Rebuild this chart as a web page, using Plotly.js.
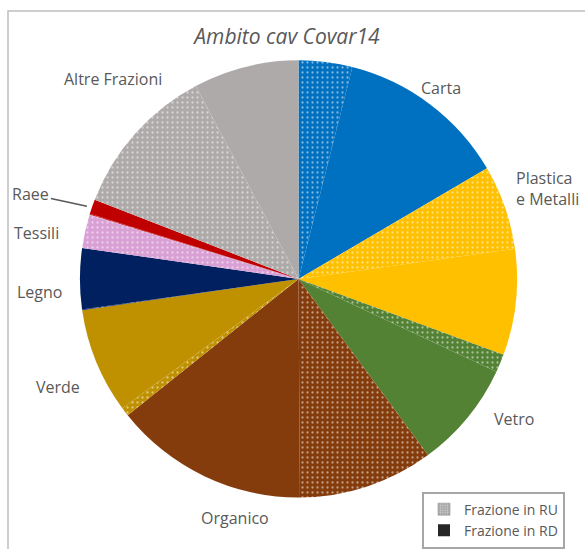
<!DOCTYPE html>
<html>
<head>
<meta charset="utf-8">
<script src="https://cdn.plot.ly/plotly-3.0.1.min.js"></script>
<style>
  html, body { margin: 0; padding: 0; background: #ffffff; }
  #chart { width: 585px; height: 549px; }
</style>
</head>
<body>
<div id="chart"></div>
<script>
// ---- data ----
const categories = ['Carta', 'Plastica<br>e Metalli', 'Vetro', 'Organico', 'Verde', 'Legno', 'Tessili', 'Raee', 'Altre Frazioni'];
const ruValues = [3.97, 6.25, 1.33, 10.0, 0.64, 0.06, 2.44, 0.06, 11.33];   // Frazione in RU (dotted)
const rdValues = [12.6, 7.86, 7.94, 14.4, 7.8, 4.5, 0.05, 1.08, 7.8];      // Frazione in RD (solid)
const seriesNames = ['Frazione in RU', 'Frazione in RD'];

// ---- styles ----
const catColors = ['#0070C0', '#FFC000', '#548235', '#843C0C', '#BF9000', '#002060', '#D9A0D5', '#C00000', '#AEAAAA'];
const labelAngleAdjust = [6.2, -15.7, -4.2, 7.4, -0.4, -2.3, -2.0, 0, -7.7];
const labelGap = [21, 45, 35, 26, 42, 38, 46, 3, 55];
const W = 585, H = 549;
const cx = 298.5, cy = 282, R = 221;
const textColor = '#595959';
const fontFam = '"Open Sans", "Noto Sans", sans-serif';

// build slices: RU then RD for each category
const sliceLabels = [], sliceValues = [], sliceColors = [], sliceShapes = [];
categories.forEach((c, i) => {
  sliceLabels.push(c + ' - ' + seriesNames[0]);
  sliceValues.push(ruValues[i]);
  sliceColors.push(catColors[i]);
  sliceShapes.push('.');
  sliceLabels.push(c + ' - ' + seriesNames[1]);
  sliceValues.push(rdValues[i]);
  sliceColors.push(catColors[i]);
  sliceShapes.push('');
});

const pie = {
  type: 'pie',
  labels: sliceLabels,
  values: sliceValues,
  sort: false,
  direction: 'clockwise',
  rotation: 0,
  textinfo: 'none',
  hoverinfo: 'label+percent',
  showlegend: false,
  domain: { x: [(cx - R) / W, (cx + R) / W], y: [1 - (cy + R) / H, 1 - (cy - R) / H] },
  marker: {
    colors: sliceColors,
    line: { width: 0 },
    pattern: { shape: sliceShapes, fillmode: 'overlay', fgcolor: '#ffffff', size: 5, solidity: 0.16 }
  }
};

// legend-only traces (zero-height bars on a hidden axis)
const legRU = {
  type: 'bar', x: [seriesNames[0]], y: [0], name: seriesNames[0], showlegend: true,
  marker: { color: '#A6A6A6', line: { color: '#7F7F7F', width: 0.5 },
            pattern: { shape: '.', fillmode: 'overlay', fgcolor: '#ffffff', size: 3, solidity: 0.3 } }
};
const legRD = {
  type: 'bar', x: [seriesNames[1]], y: [0], name: seriesNames[1], showlegend: true,
  marker: { color: '#262626' }
};

// category labels placed from data angles
const total = sliceValues.reduce((a, b) => a + b, 0);
const annotations = [];
let cum = 0;
categories.forEach((c, i) => {
  const start = cum;
  cum += ruValues[i] + rdValues[i];
  const midDeg = (start + cum) / 2 / total * 360;
  const ang = (midDeg + labelAngleAdjust[i]) * Math.PI / 180;
  const s = Math.sin(ang), co = Math.cos(ang);
  const rr = R + labelGap[i];
  if (c === 'Raee') {
    annotations.push({
      xref: 'paper', yref: 'paper',
      x: (cx + rr * s) / W, y: 1 - (cy - rr * co) / H,
      text: c, showarrow: true, arrowhead: 0, arrowwidth: 1.5, arrowcolor: textColor,
      ax: -56, ay: -12, standoff: 0, startstandoff: 0,
      font: { family: fontFam, size: 16, color: textColor }
    });
    return;
  }
  annotations.push({
    xref: 'paper', yref: 'paper',
    x: (cx + rr * s) / W, y: 1 - (cy - rr * co) / H,
    xanchor: 'center', yanchor: 'middle', yshift: -3,
    align: 'left',
    text: c, showarrow: false,
    font: { family: fontFam, size: 16, color: textColor }
  });
});

const layout = {
  width: W, height: H,
  margin: { l: 0, r: 0, t: 0, b: 0 },
  paper_bgcolor: '#ffffff', plot_bgcolor: '#ffffff',
  title: {
    text: '<i>Ambito cav Covar14</i>',
    x: 287 / W, xanchor: 'center', y: 1 - 37 / H, yanchor: 'middle',
    font: { family: fontFam, size: 21, color: textColor }
  },
  xaxis: { visible: false, fixedrange: true },
  yaxis: { visible: false, fixedrange: true, range: [1, 2] },
  showlegend: true,
  legend: {
    x: 565 / W, xanchor: 'right', y: 1 - 497 / H, yanchor: 'top',
    bgcolor: '#ffffff', bordercolor: '#A6A6A6', borderwidth: 2,
    font: { family: fontFam, size: 14, color: textColor },
    itemwidth: 30, tracegroupgap: 0
  },
  annotations: annotations,
  shapes: [{
    type: 'rect', xref: 'paper', yref: 'paper',
    x0: 8 / W, x1: 1.05, y0: -0.05, y1: 1 - 11 / H,
    line: { color: '#BFBFBF', width: 1.5 }, fillcolor: 'rgba(0,0,0,0)', layer: 'below'
  }]
};

Plotly.newPlot('chart', [legRU, legRD, pie], layout, { displayModeBar: false, staticPlot: true });
</script>
</body>
</html>
